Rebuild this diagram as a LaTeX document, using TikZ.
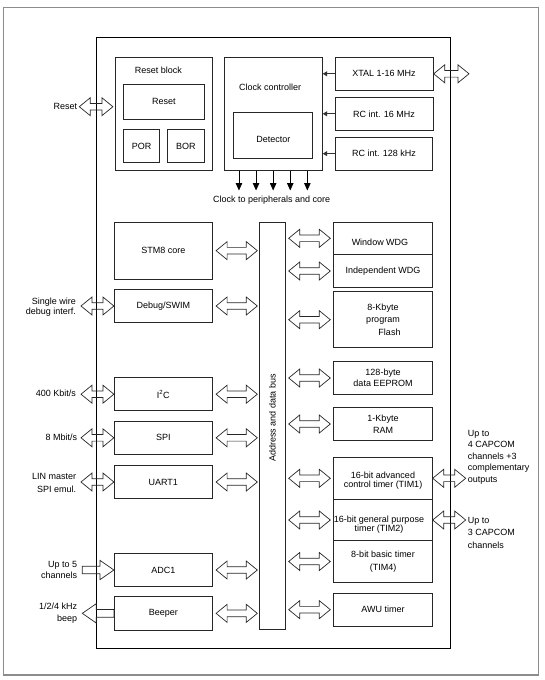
\documentclass[tikz,border=0pt]{standalone}
\usepackage{fontspec}
\setmainfont{Liberation Sans}
\usetikzlibrary{calc,arrows.meta}
\begin{document}
\begin{tikzpicture}[x=1pt,y=-1pt,
  every node/.style={font=\fontsize{9}{11}\selectfont, inner sep=0pt},
  lbl/.style={},
  box/.style 2 args={draw=black!85, line width=0.8pt, minimum width=#1pt, minimum height=#2pt, align=center},
  dbl/.style={draw=black!85, line width=0.7pt, to path={let \p1=(\tikztostart), \p2=(\tikztotarget) in
    (\x1,\y1) -- (\x1+11pt,\y1+9pt) -- (\x1+11pt,\y1+3.3pt) -- (\x2-11pt,\y1+3.3pt) -- (\x2-11pt,\y1+9pt)
    -- (\x2,\y1) -- (\x2-11pt,\y1-9pt) -- (\x2-11pt,\y1-3.3pt) -- (\x1+11pt,\y1-3.3pt) -- (\x1+11pt,\y1-9pt) -- cycle}},
  sarr/.style={draw=black!85, line width=0.7pt, to path={let \p1=(\tikztostart), \p2=(\tikztotarget) in
    (\x1,\y1+3.8pt) -- (\x2-14pt,\y1+3.8pt) -- (\x2-14pt,\y1+9.7pt) -- (\x2,\y1)
    -- (\x2-14pt,\y1-9.7pt) -- (\x2-14pt,\y1-3.8pt) -- (\x1,\y1-3.8pt) -- cycle}},
  sarrl/.style={draw=black!85, line width=0.7pt, to path={let \p1=(\tikztostart), \p2=(\tikztotarget) in
    (\x1,\y1+3.8pt) -- (\x2+14pt,\y1+3.8pt) -- (\x2+14pt,\y1+9.7pt) -- (\x2,\y1)
    -- (\x2+14pt,\y1-9.7pt) -- (\x2+14pt,\y1-3.8pt) -- (\x1,\y1-3.8pt) -- cycle}},
  osc/.style={draw=black!80, line width=0.8pt, -{Triangle[length=4.5pt,width=5pt]}},
  clkarr/.style={draw=black, line width=0.8pt, -{Triangle[length=7.5pt,width=6.5pt]}}
]
\useasboundingbox (0,0) rectangle (544,680);
% frames
\draw[black!45, line width=1.2pt] (3.3,7.3) rectangle (538.2,675);
\draw[black, line width=0.8pt] (96.3,37.3) rectangle (450.5,648.7);

% reset block
\node[box={97.7}{113}] (rblk) at (163.85,113.8) {};
\node[lbl] (rblkt) at (158.3,70) {Reset block};
\node[box={81}{34.7}] (rst) at (163.8,101.65) {Reset};
\node[box={36.4}{33.4}] (por) at (141.5,146) {POR};
\node[box={37}{33.4}] (bor) at (185.8,146) {BOR};

% clock controller
\node[box={98.3}{113}] (clk) at (273.15,113.8) {};
\node[lbl] (clkt) at (270.2,87.3) {Clock controller};
\node[box={79.4}{46.4}] (det) at (273,135.5) {};
\node[lbl] (dett) at (273.3,139.3) {Detector};

% oscillators
\node[box={98}{33}] (xtal) at (384,73.8) {XTAL 1-16 MHz};
\node[box={98}{33}] (rc16) at (384,113.8) {RC int. 16 MHz};
\node[box={97}{33.3}] (rc128) at (384,153.65) {RC int. 128 kHz};

\node[lbl] (clklbl) at (271.7,199.8) {Clock to peripherals and core};

\foreach \n in {xtal,rc16,rc128} \draw[osc] (\n.west) -- (\n.west -| clk.east);
\foreach \dx in {-34.2,-17.1,0,17.1,34.2}
  \draw[clkarr, shorten >=4.9pt] ([xshift=\dx pt]clk.south) -- ([xshift=\dx pt]clk.south |- clklbl.north);

% left column
\node[box={98}{56.7}] (stm) at (163.3,250.65) {STM8 core};
\node[box={98}{33.4}] (dbg) at (163.3,306) {Debug/SWIM};
\node[box={98}{33}] (i2c) at (163.3,394.2) {I\textsuperscript{2}C};
\node[box={98}{33}] (spi) at (163.3,437.8) {SPI};
\node[box={98}{33.4}] (uart) at (163.3,482) {UART1};
\node[box={98}{33.4}] (adc) at (163.3,570) {ADC1};
\node[box={98}{33.3}] (beep) at (163.3,613.35) {Beeper};

% bus
\node[box={25.5}{406.7}] (bus) at (272.25,425.65) {};
\node[lbl, rotate=90] (bust) at (272.3,418) {Address and data bus};

% right column
\node[box={98.6}{32}] (wwdg) at (383,238.3) {};
\node[lbl] (wwdgt) at (380,242.7) {Window WDG};
\node[box={98.6}{33.4}] (iwdg) at (383,271) {Independent WDG};
\node[box={98.6}{56}, font=\fontsize{9}{12.8}\selectfont] (flash) at (383,319.7) {8-Kbyte\\program\\\hspace*{13pt}Flash};
\node[box={98.6}{32.6}, font=\fontsize{9}{10.7}\selectfont] (eep) at (383,378) {128-byte\\data EEPROM};
\node[box={98.6}{33.4}, font=\fontsize{9}{11.7}\selectfont] (ram) at (383,424) {1-Kbyte\\RAM};
\node[box={98.6}{42}] (tim1) at (383,478.3) {};
\node[lbl, align=center, font=\fontsize{9}{8.7}\selectfont] (tim1t) at (383,481) {16-bit advanced\\control timer (TIM1)};
\node[box={98.6}{41.4}] (tim2) at (383,520) {};
\node[lbl, align=center, font=\fontsize{9}{9}\selectfont] (tim2t) at (379,524.5) {16-bit general purpose\\timer (TIM2)};
\node[box={98.6}{41.6}, font=\fontsize{9}{13.3}\selectfont] (tim4) at (383,561.5) {8-bit basic timer\\(TIM4)};
\node[box={98.6}{32.7}] (awu) at (383,609.65) {AWU timer};

% internal bus arrows
\foreach \n in {stm,dbg,i2c,spi,uart,adc,beep}
  \draw[dbl] ([xshift=3.4pt]\n.east) to ([xshift=-1.8pt]bus.west |- \n.east);
\foreach \n in {wwdg,iwdg,flash,eep,ram,tim1,tim2,tim4,awu}
  \draw[dbl] ([xshift=3.3pt]bus.east |- \n.west) to ([xshift=-3pt]\n.west);

% external connections
\coordinate (rstx) at (79.3,106.7);
\coordinate (lx) at (81,0);
\coordinate (lx2) at (82.3,0);
\coordinate (rx) at (465.7,0);
\coordinate (rx2) at (469,0);
\draw[dbl] ([xshift=0pt]rstx) to ([xshift=-1.7pt]rstx -| rblk.west);
\foreach \n in {dbg,i2c,spi,uart}
  \draw[dbl] ([xshift=0pt]lx |- \n.west) to ([xshift=0pt]\n.west);
\draw[sarr] ([xshift=0pt]lx2 |- adc.west) to ([xshift=0pt]adc.west);
\draw[sarrl] ([xshift=0pt]beep.west) to ([xshift=0pt]lx2 |- beep.west);
\draw[dbl] ([xshift=0.3pt]xtal.east) to ([xshift=0pt]rx2 |- xtal.east);
\draw[dbl] ([xshift=0pt]tim1.east) to ([xshift=0pt]rx |- tim1.east);
\draw[dbl] ([xshift=0pt]tim2.east) to ([xshift=0pt]rx |- tim2.east);

% external labels
\node[lbl, anchor=east] (lrst) at (77.3,106.3) {Reset};
\node[lbl, anchor=east, align=right, font=\fontsize{9}{10.7}\selectfont] (ldbg) at (76,307.3) {Single wire\\debug interf.};
\node[lbl, anchor=east] (li2c) at (76,392.9) {400 Kbit/s};
\node[lbl, anchor=east] (lspi) at (77.3,437.7) {8 Mbit/s};
\node[lbl, anchor=east, align=right, font=\fontsize{9}{13}\selectfont] (luart) at (76.3,483.3) {LIN master\\SPI emul.};
\node[lbl, anchor=east, align=right, font=\fontsize{9}{11}\selectfont] (ladc) at (77.3,569.5) {Up to 5\\channels};
\node[lbl, anchor=east, align=right, font=\fontsize{9}{11.7}\selectfont] (lbeep) at (77.3,613.4) {1/2/4 kHz\\beep};
\node[lbl, anchor=west, align=left, font=\fontsize{9}{11.5}\selectfont] (ltim1) at (467.7,457.2) {Up to\\4 CAPCOM\\channels +3\\complementary\\outputs};
\node[lbl, anchor=west, align=left, font=\fontsize{9}{12.5}\selectfont] (ltim2) at (467.7,532.5) {Up to\\3 CAPCOM\\channels};
\end{tikzpicture}
\end{document}
